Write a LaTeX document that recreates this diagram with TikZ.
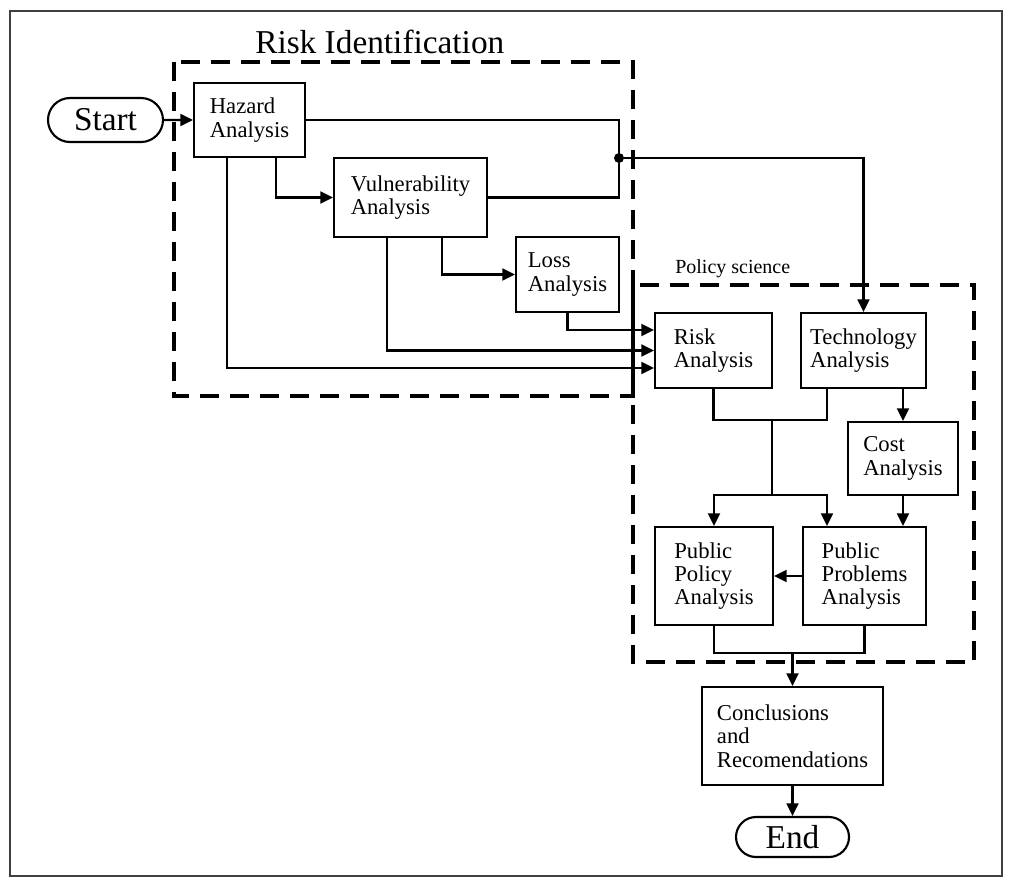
\documentclass[tikz,border=0pt]{standalone}
\usepackage{fontspec}
\setmainfont{Liberation Serif}
\usetikzlibrary{arrows.meta,shapes.misc}
\begin{document}
\begin{tikzpicture}[x=0.75pt,y=-0.75pt,
  box/.style={draw, line width=1.6pt, inner sep=0pt, align=left,
    font=\fontsize{17pt}{17.5pt}\selectfont},
  term/.style={draw, rounded rectangle, line width=1.6pt, inner sep=0pt,
    font=\fontsize{25pt}{28pt}\selectfont},
  conn/.style={line width=1.6pt},
  arr/.style={conn, -{Triangle[length=9.5pt,width=9pt]}},
  region/.style={line width=2.3pt, dash pattern=on 14pt off 8.5pt},
  title/.style={inner sep=0pt, anchor=base west}]
\useasboundingbox (0,0) rectangle (1013,886);
% outer frame
\draw[line width=1pt, black!75] (10,11) rectangle (1002,876);
% regions
\draw[region] (174,62) rectangle (633,396);
\draw[region] (633,285) rectangle (974,662);
\node[title, font=\fontsize{25pt}{28pt}\selectfont] (tri) at (255,53) {Risk Identification};
\node[title, font=\fontsize{15pt}{17pt}\selectfont] (tps) at (675,273) {Policy science};
% terminals
\node[term, minimum width=86.25pt, minimum height=33pt] (start) at (105.5,120) {Start};
\node[term, minimum width=84.75pt, minimum height=30pt] (end) at (792.5,837) {End};
% boxes
\node[box, minimum width=83.25pt, minimum height=55.5pt] (haz) at (249.5,120) {Hazard\\Analysis};
\node[box, minimum width=114.75pt, minimum height=59.25pt] (vul) at (410.5,197.5) {Vulnerability\\Analysis};
\node[box, minimum width=77.25pt, minimum height=56.25pt] (loss) at (567.5,274.5) {Loss\\Analysis};
\node[box, minimum width=87.75pt, minimum height=56.25pt] (risk) at (713.5,350.5) {Risk\\Analysis};
\node[box, minimum width=93.75pt, minimum height=56.25pt] (tech) at (863.5,350.5) {Technology\\Analysis};
\node[box, minimum width=82.5pt, minimum height=54.75pt] (cost) at (903,458.5) {Cost\\Analysis};
\node[box, minimum width=88.5pt, minimum height=73.5pt] (ppol) at (714,576) {Public\\Policy\\Analysis};
\node[box, minimum width=92.25pt, minimum height=73.5pt] (ppro) at (864.5,576) {Public\\Problems\\Analysis};
\node[box, minimum width=135.75pt, minimum height=73.5pt] (conc) at (792.5,736) {Conclusions\\and\\Recomendations};
% junction dot and helper coordinates
\node[circle, fill, inner sep=0pt, minimum size=7.5pt] (dot) at (619,158) {};
\coordinate (xa) at (276,0);
\coordinate (xb) at (227,0);
\coordinate (xc) at (387,0);
\coordinate (xd) at (442,0);
\coordinate (xf) at (827,0);
\coordinate (y1) at (0,330);
\coordinate (y3) at (0,368);
\coordinate (j1) at (772,420);
\coordinate (j2) at (772,495);
\coordinate (j3) at (792.5,653);
% connectors
\draw[arr] (start) -- (haz);
\draw[conn] (haz.east) -| (dot);
\draw[conn] (vul.east) -| (dot);
\draw[arr] (dot) -| (tech.north);
\draw[arr] (haz.south -| xa) |- (vul.west);
\draw[arr] (haz.south -| xb) |- (risk.west |- y3);
\draw[arr] (vul.south -| xc) |- (risk.west);
\draw[arr] (vul.south -| xd) |- (loss.west);
\draw[arr] (loss.south) |- (risk.west |- y1);
\draw[arr] (tech.south -| cost.north) -- (cost.north);
\draw[conn] (risk.south) |- (j1) -| (tech.south -| xf);
\draw[conn] (j1) -- (j2);
\draw[arr] (j2) -| (ppol.north);
\draw[arr] (j2) -| (ppro.north -| xf);
\draw[arr] (cost.south) -- (cost.south |- ppro.north);
\draw[arr] (ppro.west) -- (ppol.east);
\draw[conn] (ppol.south) |- (ppro.south |- j3) -- (ppro.south);
\draw[arr] (j3) -- (conc.north);
\draw[arr] (conc.south) -- (end.north);
\end{tikzpicture}
\end{document}
